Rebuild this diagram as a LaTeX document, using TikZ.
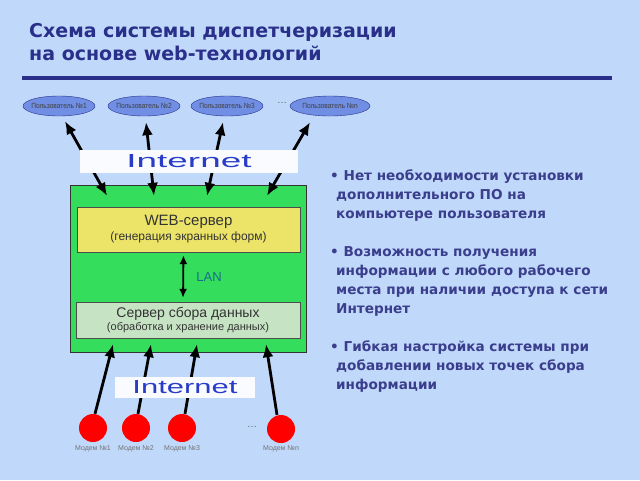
\documentclass[tikz,border=0pt]{standalone}
\usepackage{fontspec}
\setmainfont{Liberation Sans}
\newfontfamily\verd{DejaVu Sans}
\usepackage{graphicx}
\usetikzlibrary{arrows.meta,shapes.geometric,calc}
\definecolor{bgblue}{RGB}{192,216,250}
\definecolor{ttlblue}{RGB}{42,48,138}
\definecolor{ellblue}{RGB}{112,142,228}
\definecolor{hostgreen}{RGB}{52,222,92}
\definecolor{webyellow}{RGB}{236,228,104}
\definecolor{dbgreen}{RGB}{198,228,196}
\definecolor{lanteal}{RGB}{24,110,140}
\definecolor{inetblue}{RGB}{40,60,200}
\definecolor{txtblue}{RGB}{58,62,140}
\newcommand{\usertext}[1]{\makebox[0pt]{\scalebox{0.88}[1]{#1}}}

\begin{document}
\begin{tikzpicture}[x=1pt, y=-1pt,
  user/.style={ellipse, draw=ttlblue, fill=ellblue, minimum width=72pt,
               minimum height=20pt, inner sep=0pt, text=black!75,
               font=\fontsize{7.5}{8}\selectfont},
  modem/.style={circle, fill=red, minimum size=28pt, inner sep=0pt},
  mlabel/.style={font=\fontsize{7}{8}\selectfont, text=black!55},
  dots/.style={font=\fontsize{10}{10}\selectfont, text=black!60},
  banner/.style={fill=white!90!bgblue, inner sep=0pt, text=inetblue},
  srv/.style={draw=black!70, align=center, inner sep=0pt, text=black!80},
  link/.style={line width=2.8pt, {Latex[length=13pt,width=11pt]}-{Latex[length=13pt,width=11pt]}},
  uplink/.style={line width=2.8pt, -{Latex[length=13pt,width=11pt]}},
  lan/.style={line width=1.8pt, {Latex[length=9pt,width=8pt]}-{Latex[length=9pt,width=8pt]},
              shorten <=3pt, shorten >=4pt},
  bullets/.style={align=left, text=txtblue, inner sep=0pt,
                  font=\verd\bfseries\fontsize{13.6}{19}\selectfont},
]
\path[use as bounding box, fill=bgblue] (0,0) rectangle (640,480);

% title
\node[anchor=north west, align=left, inner sep=0pt, text=ttlblue,
      font=\verd\bfseries\fontsize{19}{23}\selectfont] (title) at (29,23)
  {Схема системы диспетчеризации\\на основе web-технологий};
\draw[ttlblue, line width=4pt] (22,78) -- (612,78);

% servers
\node[draw=black!80, fill=hostgreen, minimum width=236pt, minimum height=167pt,
      inner sep=0pt] (host) at (188,268.5) {};
\node[srv, fill=webyellow, minimum width=223pt, minimum height=45pt] (web) at (188.5,229.5)
  {{\fontsize{15}{17}\selectfont WEB-сервер}\\[3pt]{\fontsize{12}{14}\selectfont (генерация экранных форм)}};
\node[srv, fill=dbgreen, minimum width=224pt, minimum height=36pt] (db) at (188,320)
  {{\fontsize{14}{16}\selectfont Сервер сбора данных}\\[1pt]{\fontsize{11}{13}\selectfont (обработка и хранение данных)}};
\draw[lan] ([xshift=-5pt]web.south) -- ([xshift=-5pt]db.north)
  node[midway, anchor=west, xshift=9pt, text=lanteal, font=\fontsize{13}{15}\selectfont] (lanlbl) {LAN};

% users
\node[user] (u1) at (59,106) {\usertext{Пользователь №1}};
\node[user] (u2) at (144,106) {\usertext{Пользователь №2}};
\node[user] (u3) at (227,106) {\usertext{Пользователь №3}};
\node[user, minimum width=80pt] (un) at (330,106) {\usertext{Пользователь №n}};
\node[dots] (udots) at (282,103) {\dots};

\draw[link] ([shift={(6,5)}]u1.south) -- ([shift={(-81,11)}]host.north);
\draw[link] ([shift={(2,6)}]u2.south) -- ([shift={(-34,11)}]host.north);
\draw[link] ([shift={(-4,6)}]u3.south) -- ([shift={(19,11)}]host.north);
\draw[link] ([shift={(-20,6)}]un.south) -- ([shift={(79,11)}]host.north);

% modems
\node[modem] (m1) at (93,428) {};
\node[modem] (m2) at (136,428) {};
\node[modem] (m3) at (182,428) {};
\node[modem] (mn) at (281,429) {};
\node[dots] (mdots) at (252,427) {\dots};
\node[mlabel] (l1) at (93,449) {Модем №1};
\node[mlabel] (l2) at (136,449) {Модем №2};
\node[mlabel] (l3) at (182,449) {Модем №3};
\node[mlabel] (ln) at (281,449) {Модем №n};

\draw[uplink] ([xshift=2pt]m1.north) -- ([shift={(-75,-8)}]host.south);
\draw[uplink] ([xshift=2pt]m2.north) -- ([shift={(-37,-8)}]host.south);
\draw[uplink] ([xshift=3pt]m3.north) -- ([shift={(9,-8)}]host.south);
\draw[uplink] ([xshift=-4pt]mn.north) -- ([shift={(78,-8)}]host.south);

% internet
\node[banner, minimum width=218pt, minimum height=23pt] (inettop) at (189,161.5)
  {\resizebox{125pt}{13pt}{Internet}};
\node[banner, minimum width=140pt, minimum height=21pt] (inetbot) at (185,387.5)
  {\resizebox{105pt}{13pt}{Internet}};

% advantages
\node[bullets, anchor=north west] (pros) at (330,170)
  {• Нет необходимости установки\\
   \hspace*{6pt}дополнительного ПО на\\
   \hspace*{6pt}компьютере пользователя\\[19pt]
   • Возможность получения\\
   \hspace*{6pt}информации с любого рабочего\\
   \hspace*{6pt}места при наличии доступа к сети\\
   \hspace*{6pt}Интернет\\[19pt]
   • Гибкая настройка системы при\\
   \hspace*{6pt}добавлении новых точек сбора\\
   \hspace*{6pt}информации};
\end{tikzpicture}
\end{document}
